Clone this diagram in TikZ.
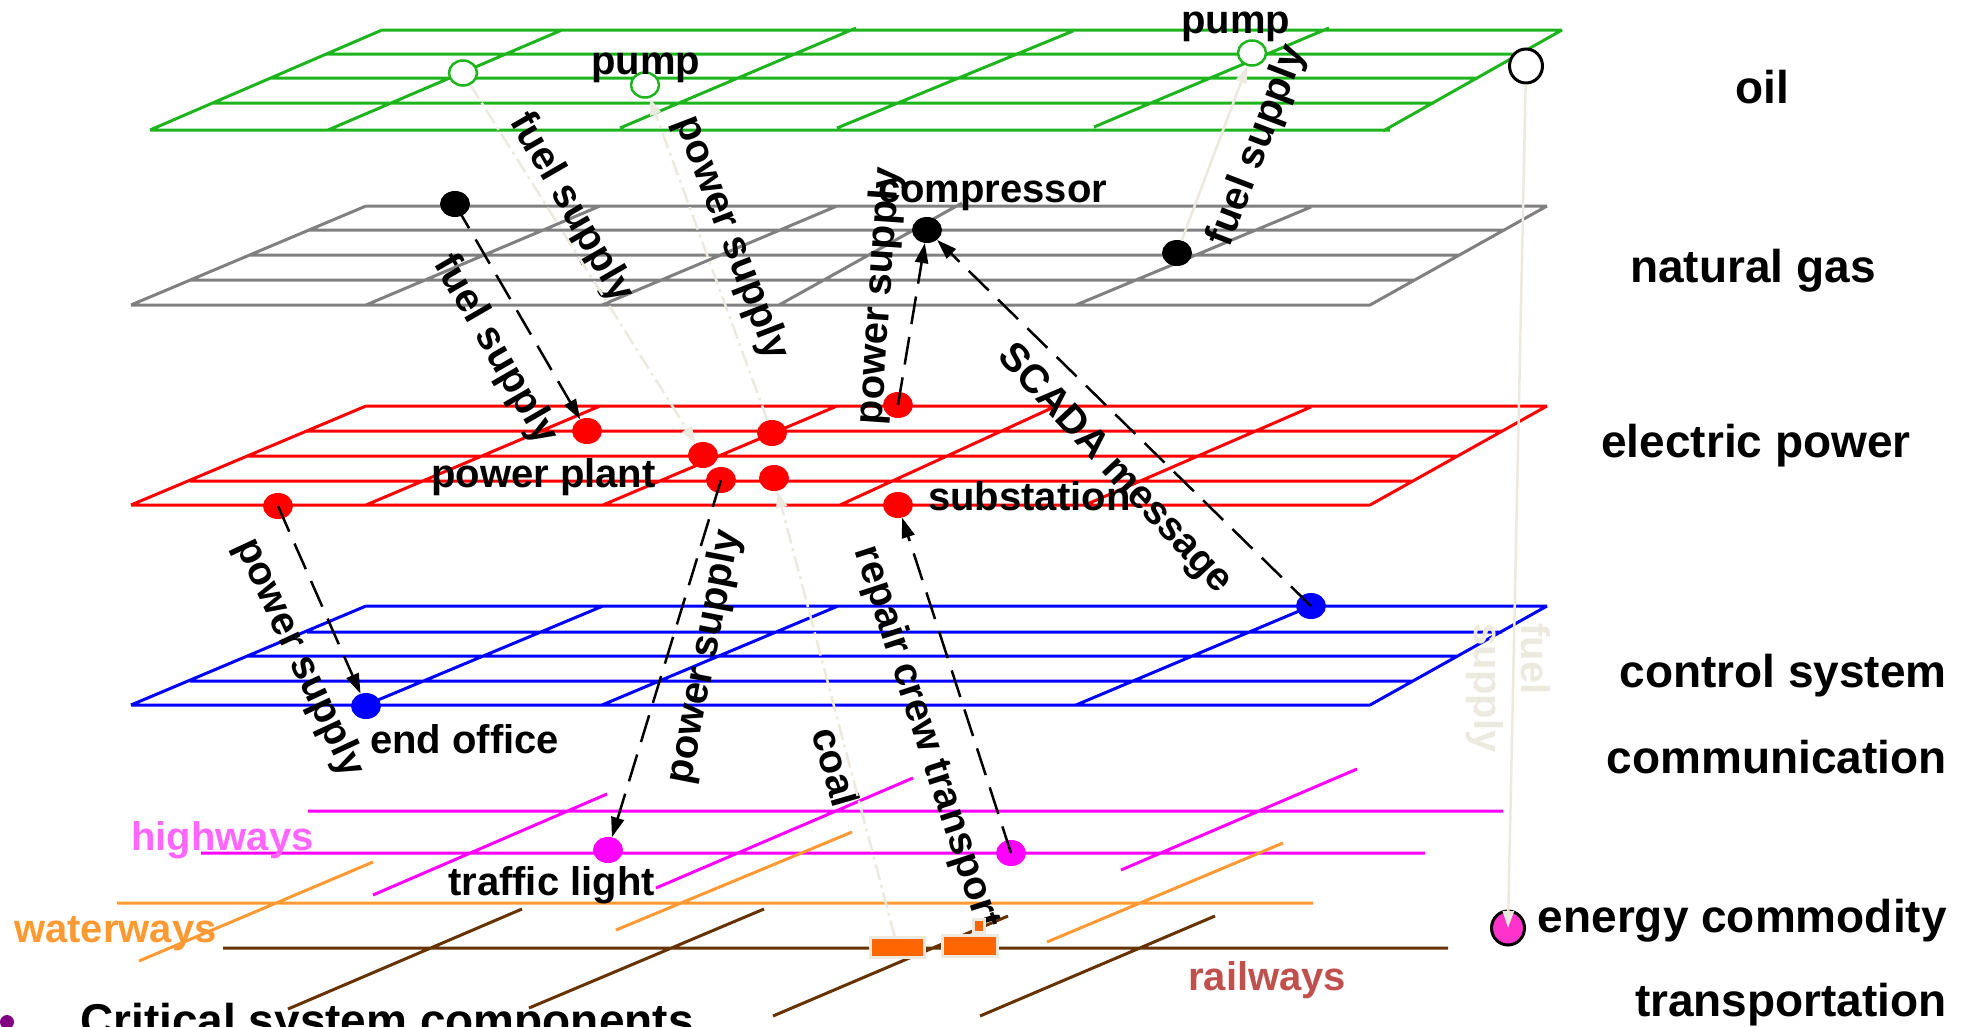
\documentclass[tikz,border=0pt]{standalone}
\usepackage{fontspec}
\setmainfont{Liberation Sans}
\usetikzlibrary{arrows.meta,shapes.geometric}
\definecolor{oilgreen}{RGB}{30,180,30}
\definecolor{gasgray}{RGB}{128,128,128}
\definecolor{hwmag}{RGB}{255,0,255}
\definecolor{hwlabel}{RGB}{255,102,255}
\definecolor{waterorange}{RGB}{255,153,51}
\definecolor{railbrown}{RGB}{102,51,0}
\definecolor{raillabel}{RGB}{192,80,77}
\definecolor{lightc}{RGB}{236,233,222}
\definecolor{carorange}{RGB}{255,102,0}
\definecolor{commpink}{RGB}{255,51,204}
\definecolor{bulletpurple}{RGB}{128,0,128}
\begin{document}
\begin{tikzpicture}[x=1pt,y=-1pt,
  gridline/.style={line width=3pt},
  dot/.style={ellipse, minimum width=30pt, minimum height=26pt, inner sep=0pt},
  lbl/.style={font=\fontsize{40}{46}\selectfont\bfseries, inner sep=0pt},
  biglbl/.style={font=\fontsize{46}{52}\selectfont\bfseries, inner sep=0pt},
  dep/.style={draw=black, line width=2.5pt, dash pattern=on 28pt off 13pt,
    -{Triangle[length=20pt,width=13pt]}},
  lightdep/.style={draw=lightc, line width=2.5pt,
    dash pattern=on 16pt off 5pt on 3pt off 5pt,
    -{Triangle[length=17pt,width=11pt]}},
  lightsolid/.style={draw=lightc, line width=2.5pt,
    -{Triangle[length=17pt,width=11pt]}},
  car/.style={rectangle, fill=carorange, draw=lightc, line width=3pt, inner sep=0pt}]
\useasboundingbox (0,0) rectangle (1967,1026);

% ---- oil layer
\draw[gridline, oilgreen]
  (382,30)--(1562,30) (326,54)--(1520,54) (271,78)--(1478,78)
  (213,103)--(1434,103) (150,130)--(1390,130)
  (382,30)--(150,130) (562,30)--(328,130) (856,28)--(620,128)
  (1073,31)--(837,128) (1329,28)--(1094,127) (1562,30)--(1383,131);

% ---- natural gas layer
\draw[gridline, gasgray]
  (366,206)--(1547,206) (309,230)--(1504,230) (250,255)--(1459,255)
  (191,280)--(1414,280) (131,305)--(1370,305)
  (366,206)--(131,305) (600,206)--(366,305) (837,206)--(602,305)
  (962,203)--(779,305) (1311,207)--(1076,305) (1547,206)--(1370,305);

% ---- electric power layer
\draw[gridline, red]
  (366,406)--(1547,406) (307,431)--(1502,431) (248,456)--(1458,456)
  (190,481)--(1413,481) (131,505)--(1370,505)
  (366,406)--(131,505) (600,406)--(366,505) (837,406)--(603,505)
  (1054,407)--(840,505) (1311,407)--(1085,505) (1547,406)--(1370,505);

% ---- control system / communication layer
\draw[gridline, blue]
  (366,606)--(1547,606) (307,632)--(1502,632) (248,656)--(1458,656)
  (190,681)--(1413,681) (131,705)--(1370,705)
  (366,606)--(131,705) (603,606)--(366,705) (838,606)--(602,705)
  (1311,606)--(1076,705) (1547,606)--(1370,705);

% ---- transportation networks
\draw[gridline, hwmag]
  (308,811)--(1503,811) (201,853)--(1425,853)
  (607,794)--(373,895) (913,778)--(656,888) (1357,769)--(1121,870);
\draw[gridline, waterorange]
  (117,903)--(1313,903)
  (373,862)--(139,961) (852,832)--(616,930) (1283,843)--(1047,942);
\draw[gridline, railbrown]
  (223,948)--(1448,948)
  (522,909)--(288,1009) (764,909)--(529,1008)
  (1008,916)--(773,1016) (1215,916)--(980,1016);

% ---- components
\node[dot, draw=oilgreen, line width=2.5pt, fill=white, minimum width=28pt, minimum height=25pt] (gp1) at (463,73) {};
\node[dot, draw=oilgreen, line width=2.5pt, fill=white, minimum width=28pt, minimum height=25pt] (gp2) at (645,85) {};
\node[dot, draw=oilgreen, line width=2.5pt, fill=white, minimum width=28pt, minimum height=25pt] (gp3) at (1252,53) {};
\node[dot, draw=black, line width=3pt, fill=white, minimum width=33pt, minimum height=34pt] (gb) at (1526,66) {};

\node[dot, fill=black] (ng1) at (455,204) {};
\node[dot, fill=black] (ng2) at (927,230) {};
\node[dot, fill=black] (ng3) at (1177,253) {};

\node[dot, fill=red] (ep1) at (587,431) {};
\node[dot, fill=red] (ep2) at (703,455) {};
\node[dot, fill=red] (ep3) at (772,433) {};
\node[dot, fill=red] (ep4) at (898,405) {};
\node[dot, fill=red] (ep5) at (721,480) {};
\node[dot, fill=red] (ep6) at (774,478) {};
\node[dot, fill=red] (ep7) at (278,506) {};
\node[dot, fill=red] (ep8) at (898,505) {};

\node[dot, fill=blue] (cs1) at (366,706) {};
\node[dot, fill=blue] (cs2) at (1311,606) {};

\node[dot, fill=hwmag] (hw1) at (608,850) {};
\node[dot, fill=hwmag] (hw2) at (1011,853) {};

\node[dot, fill=commpink, draw=black, line width=3pt, minimum width=33pt, minimum height=34pt] (ec) at (1508,928) {};

% ---- component labels
\node[lbl, anchor=base west] (tpump1) at (591,74) {pump};
\node[lbl, anchor=base west] (tpump2) at (1181,33) {pump};
\node[lbl, anchor=base west] (tcomp) at (878,202) {compressor};
\node[lbl, anchor=base west] (tplant) at (431,487) {power plant};
\node[lbl, anchor=base west] (tsub) at (928,510) {substation};
\node[lbl, anchor=base west] (toffice) at (370,753) {end office};
\node[lbl, anchor=base west] (tlight) at (448,895) {traffic light};
\node[lbl, anchor=base west, text=hwlabel] (thigh) at (131,850) {highways};
\node[lbl, anchor=base west, text=waterorange] (twater) at (14,942) {waterways};
\node[lbl, anchor=base west, text=raillabel] (trail) at (1188,990) {railways};

% ---- layer names
\node[biglbl, anchor=base] (noil) at (1762,103) {oil};
\node[biglbl, anchor=base] (ngas) at (1753,282) {natural gas};
\node[biglbl, anchor=base] (nelec) at (1756,457) {electric power};
\node[biglbl, anchor=base east] (nctrl) at (1947,687) {control system};
\node[biglbl, anchor=base east] (ncomm) at (1947,773) {communication};
\node[biglbl, anchor=base east] (nenergy) at (1947,932) {energy commodity};
\node[biglbl, anchor=base east] (ntrans) at (1947,1016) {transportation};

% ---- bullet line at the bottom
\fill[bulletpurple] (7,1022) circle (7);
\node[biglbl, anchor=base west] (crit) at (80,1036) {Critical system components};

% ---- dependency labels
\node[lbl, rotate=-60] (l1) at (571,208) {fuel supply};
\node[lbl, rotate=-60] (l2) at (495,350) {fuel supply};
\node[lbl, rotate=-69] (l3) at (731,238) {power supply};
\node[lbl, rotate=86] (l4) at (880,296) {power supply};
\node[lbl, rotate=69] (l5) at (1258,146) {fuel supply};
\node[lbl, rotate=-47] (l6) at (1114,470) {SCADA message};
\node[lbl, rotate=-65] (l7) at (299,658) {power supply};
\node[lbl, rotate=79] (l8) at (705,657) {power supply};
\node[lbl, rotate=-72] (l9) at (926,738) {repair crew transport};
\node[lbl, rotate=-74] (l10) at (836,767) {coal};
\node[lbl, rotate=-90, align=left, text=lightc, font=\fontsize{40}{47}\selectfont\bfseries] (l11) at (1508,688) {fuel\\supply};

% ---- dependencies
\draw[dep] (ng1.center) -- (ep1);
\draw[dep] (ep4.center) -- (ng2);
\draw[dep] (cs2.center) -- (ng2);
\draw[dep] (ep7.center) -- (cs1);
\draw[dep] (ep5.center) -- (hw1);
\draw[dep] (hw2.center) -- (ep8);
\draw[lightdep] (gp1) -- (ep2);
\draw[lightdep] (ep3) -- (gp2);
\draw[lightsolid] (ng3) -- (gp3);
\draw[lightsolid] (gb) -- (ec.center);

% ---- train on the railway
\node[car, minimum width=54pt, minimum height=20pt] (car1) at (897.5,947.5) {};
\node[car, minimum width=55pt, minimum height=21pt] (car2) at (970,946) {};
\node[car, minimum width=11pt, minimum height=13pt] (car3) at (979,926) {};
\draw[lightdep] (car1) -- (ep6);
\end{tikzpicture}
\end{document}
